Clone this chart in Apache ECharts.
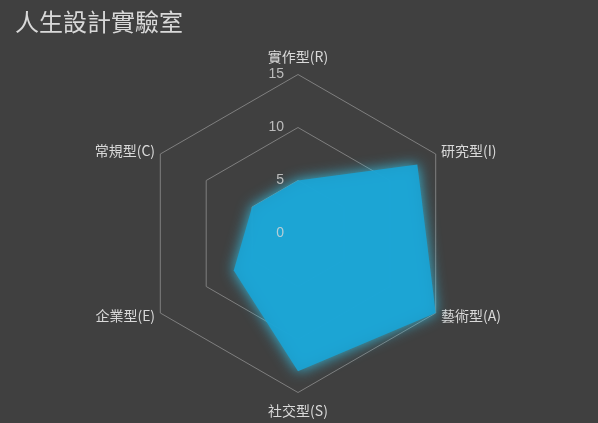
<!DOCTYPE html>
<html>
<head>
<meta charset="utf-8">
<script src="https://cdn.jsdelivr.net/npm/echarts@6/dist/echarts.min.js"></script>
<style>
	html, body { margin: 0; padding: 0; background: #404040; }
	#chart { width: 598px; height: 423px; }
</style>
</head>
<body>
<div id="chart"></div>
<script>
// 六種類型（依 Excel 順時針順序）
const categories = ['實作型(R)', '研究型(I)', '藝術型(A)', '社交型(S)', '企業型(E)', '常規型(C)'];
const scores = [5, 13, 15, 13, 7, 5];
const axisMax = 15;

// ECharts 雷達圖為逆時針排列，這裡把順序翻過來
const order = [0, 5, 4, 3, 2, 1];

const chart = echarts.init(document.getElementById('chart'));

const baseIndicators = order.map((i) => ({ name: categories[i], min: 0, max: axisMax }));

// 刻度只畫在最上方的軸，放在另一個疊在上層的雷達座標上
const labelIndicators = order.map((i, k) => {
	const item = { name: '', min: 0, max: axisMax };
	if (k === 0) {
		item.axisLabel = {
			show: true,
			color: 'rgba(215, 215, 215, 0.82)',
			fontSize: 14,
			margin: 14,
			showMinLabel: true,
			showMaxLabel: true,
		};
	}
	return item;
});

const radarCommon = {
	center: [298, 233.5],
	radius: 159,
	startAngle: 90,
	shape: 'polygon',
	splitNumber: 3,
	axisLine: { show: false },
	axisTick: { show: false },
	splitArea: { show: false },
};

const option = {
	backgroundColor: '#404040',
	title: {
		text: '人生設計實驗室',
		left: 10,
		top: 5,
		textStyle: {
			color: '#d9d9d9',
			fontSize: 24,
			fontWeight: 'normal',
			fontFamily: 'Noto Sans CJK TC',
		},
	},
	radar: [
		{
			...radarCommon,
			indicator: baseIndicators,
			nameGap: 6,
			axisName: {
				color: '#d9d9d9',
				fontSize: 14,
				fontFamily: 'Noto Sans CJK TC',
				padding: [5, 0],
			},
			axisLabel: { show: false },
			splitLine: { lineStyle: { color: '#7f7f7f', width: 1 } },
		},
		{
			...radarCommon,
			z: 5,
			indicator: labelIndicators,
			axisName: { show: false },
			axisLabel: { show: false },
			splitLine: { show: false },
		},
	],
	series: [
		{
			type: 'radar',
			radarIndex: 0,
			symbol: 'none',
			silent: true,
			lineStyle: { width: 0 },
			areaStyle: {
				color: '#1aa3d4',
				opacity: 0.92,
				shadowBlur: 14,
				shadowColor: 'rgba(50, 210, 250, 0.9)',
			},
			data: [{ value: order.map((i) => scores[i]) }],
		},
	],
};

chart.setOption(option);
</script>
</body>
</html>
